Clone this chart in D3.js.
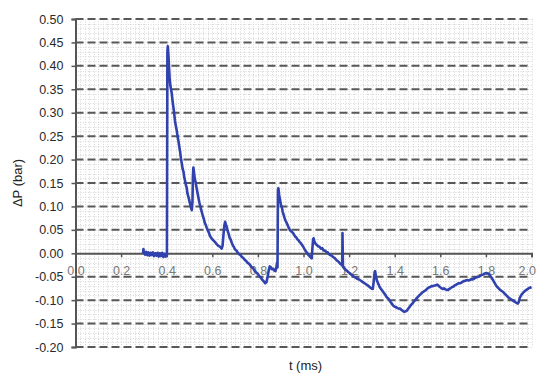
<!DOCTYPE html>
<html>
<head>
<meta charset="utf-8">
<script src="https://cdn.jsdelivr.net/npm/d3@7"></script>
<style>
  html, body { margin: 0; padding: 0; background: #fff; }
  svg { display: block; font-family: Arial, "Liberation Sans", sans-serif; }
</style>
</head>
<body>
<svg id="chart" width="539" height="375"></svg>
<script>
// Pressure trace: time (ms) and pressure difference (bar)
const timeMs = [
  0.296, 0.298, 0.300, 0.305, 0.310, 0.315, 0.320, 0.325, 0.330, 0.335,
  0.340, 0.345, 0.350, 0.355, 0.360, 0.365, 0.370, 0.375, 0.380, 0.385,
  0.390, 0.395, 0.399, 0.401, 0.403, 0.405, 0.408, 0.410, 0.413, 0.416,
  0.419, 0.422, 0.425, 0.429, 0.432, 0.436, 0.440, 0.444, 0.448, 0.451,
  0.455, 0.459, 0.463, 0.466, 0.470, 0.474, 0.477, 0.480, 0.484, 0.488,
  0.491, 0.495, 0.499, 0.503, 0.507, 0.510, 0.513, 0.515, 0.517, 0.520,
  0.523, 0.527, 0.531, 0.535, 0.539, 0.543, 0.547, 0.551, 0.555, 0.559,
  0.563, 0.567, 0.571, 0.575, 0.580, 0.585, 0.590, 0.595, 0.600, 0.606,
  0.612, 0.618, 0.624, 0.630, 0.636, 0.641, 0.645, 0.649, 0.653, 0.656,
  0.660, 0.664, 0.668, 0.672, 0.676, 0.680, 0.685, 0.690, 0.695, 0.700,
  0.706, 0.712, 0.718, 0.724, 0.730, 0.736, 0.742, 0.748, 0.754, 0.760,
  0.766, 0.772, 0.778, 0.784, 0.790, 0.796, 0.802, 0.808, 0.814, 0.820,
  0.826, 0.832, 0.837, 0.842, 0.847, 0.852, 0.857, 0.862, 0.867, 0.872,
  0.877, 0.881, 0.884, 0.886, 0.888, 0.890, 0.893, 0.897, 0.901, 0.905,
  0.909, 0.913, 0.917, 0.921, 0.925, 0.929, 0.933, 0.938, 0.943, 0.948,
  0.953, 0.958, 0.963, 0.968, 0.973, 0.978, 0.983, 0.988, 0.993, 0.999,
  1.005, 1.011, 1.017, 1.022, 1.027, 1.032, 1.036, 1.039, 1.042, 1.044,
  1.048, 1.053, 1.058, 1.064, 1.070, 1.076, 1.082, 1.088, 1.094, 1.100,
  1.106, 1.112, 1.118, 1.124, 1.130, 1.136, 1.142, 1.148, 1.154, 1.160,
  1.166, 1.170, 1.171, 1.173, 1.178, 1.184, 1.190, 1.196, 1.202, 1.208,
  1.214, 1.220, 1.226, 1.232, 1.238, 1.244, 1.250, 1.256, 1.262, 1.268,
  1.274, 1.280, 1.286, 1.292, 1.298, 1.304, 1.308, 1.312, 1.314, 1.318,
  1.322, 1.328, 1.334, 1.340, 1.346, 1.352, 1.358, 1.364, 1.370, 1.376,
  1.382, 1.388, 1.394, 1.400, 1.406, 1.412, 1.418, 1.424, 1.430, 1.436,
  1.442, 1.448, 1.454, 1.460, 1.466, 1.472, 1.478, 1.484, 1.490, 1.496,
  1.502, 1.508, 1.514, 1.520, 1.526, 1.532, 1.538, 1.544, 1.550, 1.556,
  1.562, 1.568, 1.574, 1.580, 1.586, 1.592, 1.598, 1.604, 1.610, 1.616,
  1.622, 1.628, 1.634, 1.640, 1.646, 1.652, 1.658, 1.664, 1.670, 1.676,
  1.682, 1.688, 1.694, 1.700, 1.706, 1.712, 1.718, 1.724, 1.730, 1.736,
  1.742, 1.748, 1.754, 1.760, 1.766, 1.772, 1.778, 1.784, 1.790, 1.796,
  1.802, 1.808, 1.814, 1.820, 1.826, 1.832, 1.838, 1.844, 1.850, 1.856,
  1.862, 1.868, 1.874, 1.880, 1.886, 1.892, 1.898, 1.904, 1.910, 1.916,
  1.922, 1.928, 1.934, 1.940, 1.944, 1.948, 1.954, 1.960, 1.966, 1.972,
  1.978, 1.984, 1.990, 1.996, 2.000
];

const deltaP = [
  0.000, 0.009, 0.002, -0.003, 0.003, -0.004, 0.002, -0.005, 0.001, -0.004,
  0.002, -0.006, 0.000, -0.005, 0.001, -0.007, 0.000, -0.006, 0.001, -0.008,
  -0.001, -0.007, -0.002, -0.006, 0.430, 0.442, 0.420, 0.398, 0.372, 0.358,
  0.350, 0.342, 0.328, 0.313, 0.302, 0.284, 0.272, 0.262, 0.248, 0.241,
  0.228, 0.216, 0.200, 0.192, 0.180, 0.173, 0.162, 0.156, 0.146, 0.139,
  0.128, 0.121, 0.113, 0.105, 0.097, 0.092, 0.110, 0.165, 0.183, 0.172,
  0.160, 0.151, 0.140, 0.129, 0.119, 0.109, 0.101, 0.093, 0.086, 0.079,
  0.073, 0.065, 0.061, 0.055, 0.049, 0.044, 0.037, 0.033, 0.030, 0.027,
  0.024, 0.020, 0.017, 0.015, 0.013, 0.010, 0.016, 0.040, 0.060, 0.067,
  0.061, 0.055, 0.047, 0.041, 0.033, 0.030, 0.023, 0.017, 0.013, 0.008,
  0.006, 0.001, -0.002, -0.004, -0.008, -0.010, -0.014, -0.016, -0.020, -0.022,
  -0.025, -0.030, -0.031, -0.036, -0.040, -0.042, -0.046, -0.050, -0.053, -0.057,
  -0.060, -0.064, -0.062, -0.052, -0.038, -0.028, -0.030, -0.034, -0.033, -0.037,
  -0.038, -0.030, -0.020, -0.030, 0.135, 0.139, 0.125, 0.114, 0.104, 0.098,
  0.088, 0.082, 0.075, 0.070, 0.066, 0.062, 0.057, 0.052, 0.048, 0.046,
  0.044, 0.040, 0.036, 0.034, 0.030, 0.028, 0.024, 0.022, 0.018, 0.014,
  0.008, 0.004, 0.000, -0.004, -0.006, -0.009, -0.011, 0.010, 0.030, 0.032,
  0.025, 0.020, 0.018, 0.015, 0.014, 0.010, 0.011, 0.006, 0.006, 0.003,
  0.002, -0.002, -0.004, -0.005, -0.008, -0.010, -0.013, -0.016, -0.018, -0.022,
  -0.024, -0.026, 0.043, -0.028, -0.032, -0.035, -0.037, -0.040, -0.042, -0.045,
  -0.047, -0.050, -0.051, -0.053, -0.055, -0.056, -0.058, -0.060, -0.062, -0.064,
  -0.066, -0.068, -0.070, -0.073, -0.075, -0.076, -0.060, -0.040, -0.038, -0.050,
  -0.058, -0.065, -0.072, -0.076, -0.080, -0.084, -0.088, -0.093, -0.096, -0.099,
  -0.104, -0.108, -0.112, -0.114, -0.115, -0.117, -0.118, -0.118, -0.121, -0.123,
  -0.125, -0.124, -0.122, -0.118, -0.114, -0.110, -0.107, -0.103, -0.100, -0.096,
  -0.093, -0.090, -0.087, -0.084, -0.082, -0.080, -0.078, -0.075, -0.073, -0.072,
  -0.070, -0.070, -0.069, -0.068, -0.067, -0.069, -0.072, -0.074, -0.076, -0.075,
  -0.077, -0.078, -0.078, -0.076, -0.074, -0.072, -0.071, -0.068, -0.067, -0.065,
  -0.064, -0.064, -0.062, -0.060, -0.059, -0.058, -0.057, -0.058, -0.057, -0.055,
  -0.056, -0.054, -0.052, -0.051, -0.050, -0.049, -0.047, -0.046, -0.045, -0.043,
  -0.042, -0.043, -0.045, -0.049, -0.053, -0.058, -0.063, -0.068, -0.072, -0.075,
  -0.078, -0.080, -0.082, -0.085, -0.088, -0.091, -0.094, -0.096, -0.098, -0.100,
  -0.102, -0.104, -0.106, -0.107, -0.104, -0.096, -0.090, -0.086, -0.083, -0.080,
  -0.078, -0.076, -0.074, -0.073, -0.072
];

const xTicks = [0.0, 0.2, 0.4, 0.6, 0.8, 1.0, 1.2, 1.4, 1.6, 1.8, 2.0];
const yTicks = [-0.20, -0.15, -0.10, -0.05, 0.00, 0.05, 0.10, 0.15, 0.20, 0.25, 0.30, 0.35, 0.40, 0.45, 0.50];

const svg = d3.select("#chart");
const margin = { left: 75.5, right: 7.5, top: 19, bottom: 28 };
const W = 539, H = 375;

const x = d3.scaleLinear().domain([0, 2]).range([margin.left, W - margin.right]);
const y = d3.scaleLinear().domain([-0.2, 0.5]).range([H - margin.bottom, margin.top]);

// Number formats with a plain hyphen for negatives
const locale = d3.formatLocale({ decimal: ".", thousands: ",", grouping: [3], currency: ["", ""], minus: "-" });
const fmtY = locale.format(".2f");
const fmtX = locale.format(".1f");

// Fine dotted minor grid
const minorX = d3.range(0, 101).map(i => i * 0.02);
const minorY = d3.range(0, 71).map(i => -0.2 + i * 0.01);
const minor = svg.append("g").attr("stroke", "#d9d9d9").attr("stroke-width", 1)
  .attr("stroke-dasharray", "1,1.5");
minor.selectAll("line.vx").data(minorX).join("line")
  .attr("x1", d => Math.round(x(d)) + 0.5).attr("x2", d => Math.round(x(d)) + 0.5)
  .attr("y1", y(0.5)).attr("y2", y(-0.2));
minor.selectAll("line.hy").data(minorY).join("line")
  .attr("y1", d => Math.round(y(d)) + 0.5).attr("y2", d => Math.round(y(d)) + 0.5)
  .attr("x1", x(0)).attr("x2", x(2));

// Dashed major gridlines
svg.append("g").selectAll("line").data(yTicks.filter(v => Math.abs(v) > 1e-9)).join("line")
  .attr("x1", x(0)).attr("x2", x(2))
  .attr("y1", d => y(d)).attr("y2", d => y(d))
  .attr("stroke", "#585858").attr("stroke-width", 2).attr("stroke-dasharray", "8,4");

// Y axis
const yAxis = d3.axisLeft(y).tickValues(yTicks).tickFormat(fmtY).tickSize(4).tickPadding(8);
const gy = svg.append("g").attr("transform", `translate(${x(0)},0)`).call(yAxis);
gy.select(".domain").attr("stroke", "#555").attr("stroke-width", 2);
gy.selectAll(".tick line").attr("stroke", "#555").attr("stroke-width", 1.5);
gy.selectAll(".tick text").attr("fill", "#2a2a2a").attr("font-size", 12.5)
  .attr("font-family", "Arial, 'Liberation Sans', sans-serif");

// X axis along ΔP = 0
const xAxis = d3.axisBottom(x).tickValues(xTicks).tickFormat(fmtX).tickSize(4).tickPadding(9);
const gx = svg.append("g").attr("transform", `translate(0,${y(0)})`).call(xAxis);
gx.select(".domain").attr("stroke", "#555").attr("stroke-width", 2);
gx.selectAll(".tick line").attr("stroke", "#555").attr("stroke-width", 1.5);
gx.selectAll(".tick text").attr("fill", "#777").attr("font-size", 12.5)
  .attr("font-family", "Arial, 'Liberation Sans', sans-serif");
// keep the last label inside the right edge
gx.selectAll(".tick text").filter(d => d === 2).attr("text-anchor", "end").attr("dx", 4);

// Pressure trace
const series = timeMs.map((t, i) => [t, deltaP[i]]);
svg.append("path").datum(series)
  .attr("fill", "none")
  .attr("stroke", "#3142ae")
  .attr("stroke-width", 2.6)
  .attr("stroke-linejoin", "round")
  .attr("d", d3.line().x(d => x(d[0])).y(d => y(d[1])));

// Axis titles
svg.append("text")
  .attr("transform", `translate(22,${(y(0.5) + y(-0.2)) / 2}) rotate(-90)`)
  .attr("text-anchor", "middle").attr("font-size", 13).attr("fill", "#222")
  .text("ΔP (bar)");
svg.append("text")
  .attr("x", (x(0) + x(2)) / 2 + 2).attr("y", 370)
  .attr("text-anchor", "middle").attr("font-size", 13).attr("fill", "#222")
  .text("t (ms)");
</script>
</body>
</html>
